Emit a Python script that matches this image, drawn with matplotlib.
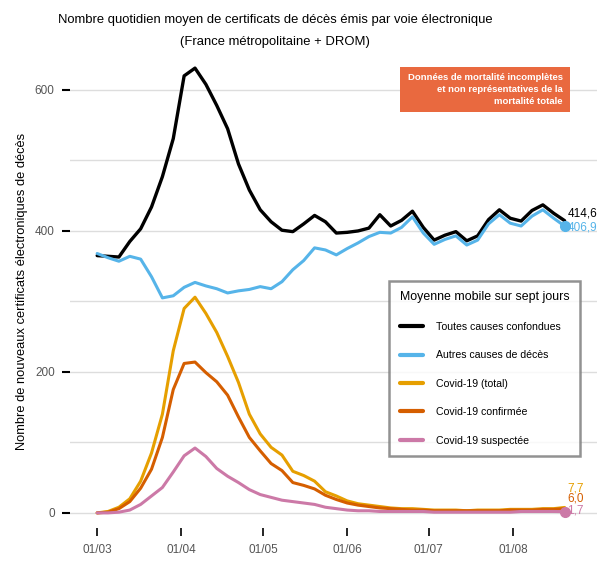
import numpy as np
import pandas as pd
import matplotlib
matplotlib.use("Agg")
import matplotlib.pyplot as plt
import matplotlib.dates as mdates
from matplotlib.patches import Rectangle

plt.rcParams['font.family'] = ['Liberation Sans', 'DejaVu Sans']

# Moyennes mobiles sur 7 jours, lues tous les 4 jours (01/03 -> 20/08)
dates = pd.date_range('2020-03-01', '2020-08-20', freq='4D')

toutes_causes = [365, 364, 363, 385, 403, 434, 477, 531, 620, 631, 608, 578, 545, 495, 458,
                 430, 413, 401, 399, 410, 422, 413, 397, 398, 400, 404, 423, 407, 415, 428,
                 405, 387, 394, 399, 386, 393, 416, 430, 418, 414, 429, 437, 425, 414.6]
autres_causes = [368, 362, 357, 364, 360, 335, 305, 308, 320, 327, 322, 318, 312, 315, 317,
                 321, 318, 328, 345, 358, 376, 373, 366, 375, 383, 392, 398, 397, 405, 420,
                 397, 381, 388, 393, 380, 387, 410, 423, 411, 407, 421, 430, 418, 406.9]
covid_total = [0, 2, 8, 20, 45, 85, 140, 230, 290, 306, 283, 256, 222, 185, 140,
               112, 93, 82, 59, 53, 45, 30, 24, 17, 13, 11, 9, 7, 6, 6,
               5, 4, 4, 4, 3, 4, 4, 4, 5, 5, 5, 6, 6, 7.7]
covid_confirmee = [0, 1, 6, 16, 35, 62, 107, 175, 212, 214, 199, 186, 167, 136, 107,
                   88, 70, 60, 43, 39, 34, 25, 19, 14, 11, 9, 7, 6, 5, 4,
                   4, 3, 3, 3, 3, 3, 3, 3, 4, 4, 4, 5, 5, 6.0]
covid_suspectee = [0, 0, 1, 4, 12, 24, 36, 58, 81, 92, 80, 63, 52, 43, 33,
                   26, 22, 18, 16, 14, 12, 8, 6, 4, 3, 3, 2, 2, 2, 2,
                   2, 1, 1, 1, 1, 1, 1, 1, 1, 2, 2, 2, 2, 1.7]

series = [
    ("Toutes causes confondues", toutes_causes, "#000000", 2.4),
    ("Autres causes de décès", autres_causes, "#56B4E9", 2.2),
    ("Covid-19 (total)", covid_total, "#E69F00", 2.2),
    ("Covid-19 confirmée", covid_confirmee, "#D55E00", 2.2),
    ("Covid-19 suspectée", covid_suspectee, "#CC79A7", 2.2),
]

fig = plt.figure(figsize=(6.06, 5.70), dpi=100)
ax = fig.add_axes([0.1155, 0.073, 0.870, 0.831])

for label, vals, color, lw in series:
    ax.plot(dates, vals, color=color, lw=lw, label=label,
            solid_capstyle='round', solid_joinstyle='round')

# points et étiquettes de fin
ax.plot(dates[-1], autres_causes[-1], 'o', color="#56B4E9", ms=7)
ax.plot(dates[-1], covid_suspectee[-1], 'o', color="#CC79A7", ms=7)
end_labels = [
    (toutes_causes[-1], "#000000", 5),
    (autres_causes[-1], "#56B4E9", -1),
    (covid_total[-1], "#E69F00", 14),
    (covid_confirmee[-1], "#D55E00", 7),
    (covid_suspectee[-1], "#CC79A7", 0.5),
]
for v, color, dy in end_labels:
    ax.annotate(f"{v:.1f}".replace('.', ','), (dates[-1], v), xytext=(2, dy),
                textcoords='offset points', color=color, fontsize=8.5, va='center', ha='left')

ax.set_xlim(pd.Timestamp('2020-02-20'), pd.Timestamp('2020-09-01'))
ax.set_ylim(-22, 650)

ax.set_yticks([0, 200, 400, 600])
ax.set_yticks([100, 300, 500], minor=True)
ax.grid(True, which='both', axis='y', color='#DDDDDD', lw=1)
ax.set_axisbelow(True)
ax.tick_params(axis='y', which='major', length=6, width=1.5, color='black',
               labelcolor='#555555', labelsize=8.5, pad=5)
ax.tick_params(axis='y', which='minor', length=0)
ax.set_xticks(pd.date_range('2020-03-01', '2020-08-01', freq='MS'))
ax.xaxis.set_major_formatter(mdates.DateFormatter('%d/%m'))
ax.tick_params(axis='x', length=6, width=1.2, color='black', labelcolor='#555555',
               labelsize=8.5, pad=5)
for s in ax.spines.values():
    s.set_visible(False)

ax.set_ylabel("Nombre de nouveaux certificats électroniques de décès", fontsize=9.3, labelpad=5)

fig.text(0.454, 0.965, "Nombre quotidien moyen de certificats de décès émis par voie électronique",
         ha='center', va='center', fontsize=9.4)
fig.text(0.454, 0.927, "(France métropolitaine + DROM)", ha='center', va='center', fontsize=9.4)

# encadré d'avertissement
fig.patches.append(Rectangle((400 / 606, 1 - 112 / 570), 170 / 606, 45 / 570,
                             transform=fig.transFigure, facecolor='#E9693F', edgecolor='none'))
fig.text(563 / 606, 1 - 89.5 / 570,
         "Données de mortalité incomplètes\net non représentatives de la\nmortalité totale",
         ha='right', va='center', color='white', fontsize=6.8, fontweight='bold',
         linespacing=1.45, family=['Liberation Sans Narrow', 'Liberation Sans'])

leg = ax.legend(title="Moyenne mobile sur sept jours", loc='upper left',
                bbox_to_anchor=(0.596, 0.534), fontsize=7.6, title_fontsize=8.9,
                frameon=True, fancybox=False, handlelength=2.2, handletextpad=1.2,
                labelspacing=1.75, borderpad=1.0)
leg.get_frame().set_edgecolor('#777777')
leg.get_frame().set_linewidth(1.8)
leg._legend_box.align = 'left'
for line in leg.get_lines():
    line.set_linewidth(3)

fig.savefig('out.png', dpi=100)
